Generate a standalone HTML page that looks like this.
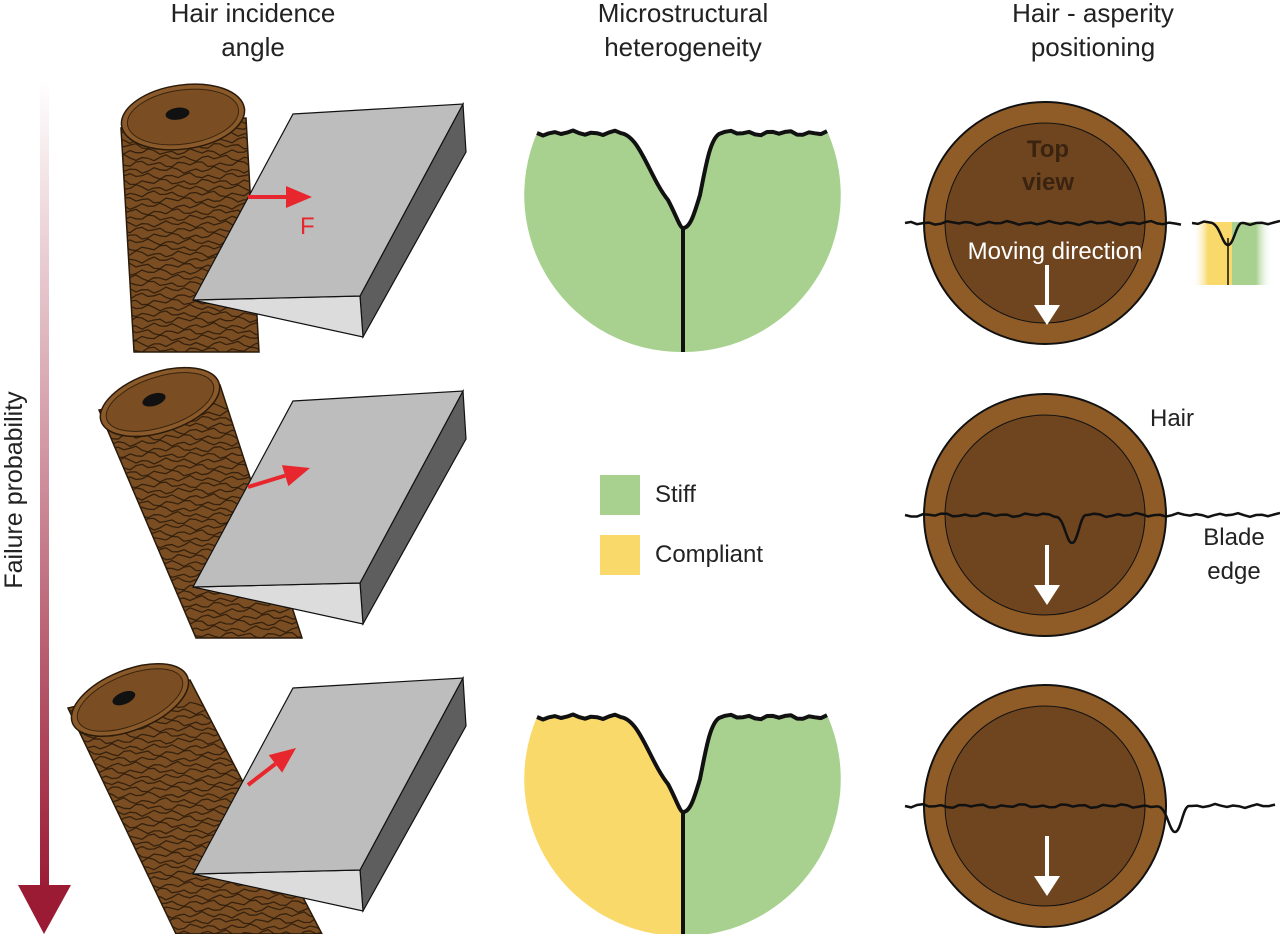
<!DOCTYPE html>
<html><head><meta charset="utf-8"><style>
html,body{margin:0;padding:0;background:#fff;}
svg{display:block;font-family:"Liberation Sans",sans-serif;}
</style></head><body>
<svg id="fig" width="1280" height="934" viewBox="0 0 1280 934">
<defs>
<linearGradient id="fp" x1="0" y1="0" x2="0" y2="1"><stop offset="0" stop-color="#fff"/><stop offset="1" stop-color="#9b1b35"/></linearGradient>
<linearGradient id="yg" x1="0" y1="0" x2="1" y2="0"><stop offset="0" stop-color="#fff" stop-opacity="0"/><stop offset="0.2" stop-color="#f9d96a"/><stop offset="0.5" stop-color="#f9d96a"/><stop offset="0.5" stop-color="#a8d18f"/><stop offset="0.8" stop-color="#a8d18f"/><stop offset="1" stop-color="#fff" stop-opacity="0"/></linearGradient>
</defs>
<g font-size="26" fill="#222" text-anchor="middle">
<text x="253" y="22">Hair incidence</text>
<text x="253" y="56">angle</text>
<text x="683" y="22">Microstructural</text>
<text x="683" y="56">heterogeneity</text>
<text x="1093" y="22">Hair - asperity</text>
<text x="1093" y="56">positioning</text>
</g>
<rect x="40" y="80" width="9" height="810" fill="url(#fp)"/>
<polygon points="18,885 71,885 44,934" fill="#9b1b35"/>
<text transform="translate(22,490) rotate(-90)" font-size="25" text-anchor="middle" fill="#222">Failure probability</text>
<g id="left"></g>
<g id="mid"></g>
<g>
<rect x="600" y="475" width="40" height="40" fill="#a8d18f"/>
<text x="655" y="502" font-size="24" fill="#222">Stiff</text>
<rect x="600" y="535" width="40" height="40" fill="#f9d96a"/>
<text x="655" y="562" font-size="24" fill="#222">Compliant</text>
</g>
<g id="right"></g>
</svg>
<script>
const NS="http://www.w3.org/2000/svg";
function mk(p,t,a){const e=document.createElementNS(NS,t);for(const k in a)e.setAttribute(k,a[k]);p.appendChild(e);return e;}
function wav(x0,x1,y,amp,seed,step){step=step||3;let d="M"+x0+","+y;for(let x=x0+step;x<=x1;x+=step){const v=Math.sin(x*0.9+seed)*amp*0.6+Math.sin(x*0.37+seed*2)*amp*0.5;d+=" L"+x+","+(y+v).toFixed(1);}return d;}
function smooth(x0,x1,y,amp,seed){let d="M"+x0+","+y;for(let x=x0+6;x<=x1;x+=6){const v=Math.sin(x*0.31+seed)*amp+Math.sin(x*0.13+seed*2)*amp*0.6;d+=" L"+x+","+(y+v).toFixed(1);}return d;}
const L=document.getElementById('left');
const defs=document.querySelector('defs');
const rows=[
 {dy:0,ell:[183,117,62,32,-8],body:"M121,128 L134,352 L259,352 L246,118 Z",arrow:[248,197,312,197]},
 {dy:287,ell:[160,402,62,30,-18],body:"M99,410 L196,638 L302,638 L220,385 Z",arrow:[248,487,310,468]},
 {dy:574,ell:[130,700,62,30,-22],body:"M68,708 L176,934 L322,934 L190,680 Z",arrow:[248,785,296,748]}
];
rows.forEach((r,i)=>{
 const cp=mk(defs,'clipPath',{id:'cp'+i});mk(cp,'path',{d:r.body});
 const g=mk(L,'g',{});
 
 
 const b=mk(g,'path',{d:r.body,fill:'#7a4e22',stroke:'#2a1a0a','stroke-width':1.5});
 
 
 const tx=mk(g,'g',{'clip-path':`url(#cp${i})`});
 for(let k=0;k<44;k++){const y=r.ell[1]+5+k*6;mk(tx,'path',{d:smooth(40,340,y,2.2,k*1.7+i),fill:'none',stroke:'#2a1a0a','stroke-width':1.3,opacity:0.85});}
 const [cx,cy,rx,ry,rot]=r.ell;
 const e=mk(g,'ellipse',{cx,cy,rx,ry,fill:'#8a5a2a',stroke:'#2a1a0a','stroke-width':1.5,transform:`rotate(${rot} ${cx} ${cy})`});
 
 
 mk(g,'ellipse',{cx,cy,rx:rx-6,ry:ry-5,fill:'#7a4d22',stroke:'#3a240e','stroke-width':1,transform:`rotate(${rot} ${cx} ${cy})`});
 mk(g,'ellipse',{cx:cx-5,cy:cy-4,rx:12,ry:6,fill:'#111',transform:`rotate(${rot} ${cx} ${cy})`});
 const d=r.dy;
 const bl=mk(g,'g',{});
 
 
 mk(bl,'polygon',{points:`463,${104+d} 466,${152+d} 363,${337+d} 360,${296+d}`,fill:'#5e5e5e',stroke:'#111','stroke-width':1.2});
 mk(bl,'polygon',{points:`193,${300+d} 360,${296+d} 363,${337+d}`,fill:'#dcdcdc',stroke:'#111','stroke-width':1.2});
 mk(bl,'polygon',{points:`293,${114+d} 463,${104+d} 360,${296+d} 193,${300+d}`,fill:'#bdbdbd',stroke:'#111','stroke-width':1.2});
 const [x1,y1,x2,y2]=r.arrow;const ang=Math.atan2(y2-y1,x2-x1);const ca=Math.cos(ang),sa=Math.sin(ang);
 const bx=x2-26*ca,by=y2-26*sa;
 const ar=mk(g,'g',{});
 
 
 mk(ar,'line',{x1,y1,x2:bx,y2:by,stroke:'#e8262d','stroke-width':4});
 mk(ar,'polygon',{points:`${x2},${y2} ${bx-11*sa},${by+11*ca} ${bx+11*sa},${by-11*ca}`,fill:'#e8262d'});
});
const ft=mk(L,'text',{x:300,y:234,'font-size':24,fill:'#e8262d'});ft.textContent='F';



const M=document.getElementById('mid');
[[0,'#a8d18f','#a8d18f'],[584,'#f9d96a','#a8d18f']].forEach(([oy,lc,rc],i)=>{
 const g=mk(M,'g',{});
 
 
 const lw=smooth(537,621,133+oy,1.6,3);
 const lcurve=` C640,${136+oy} 650,${178+oy} 668,${200+oy} C676,${215+oy} 680,${228+oy} 683,${228+oy}`;
 const rcurve=` C690,${228+oy} 694,${215+oy} 700,${195+oy} C706,${165+oy} 710,${140+oy} 719,${134+oy}`;
 const rw=smooth(719,827,133+oy,1.6,5).replace(/^M[^ ]+/,'');
 mk(g,'path',{d:lw+lcurve+` L683,${352+oy} A157,157 0 0 1 537,${133+oy} Z`,fill:lc});
 mk(g,'path',{d:`M683,${228+oy}`+rcurve+rw+` L828,${133+oy} A157,157 0 0 1 683,${352+oy} Z`,fill:rc});
 mk(g,'path',{d:lw+lcurve+rcurve+rw,fill:'none',stroke:'#111','stroke-width':4,'stroke-linejoin':'round'});
 mk(g,'line',{x1:683,y1:228+oy,x2:683,y2:352+oy,stroke:'#111','stroke-width':4});
});

const R=document.getElementById('right');
const circ=[[223,1228,245,1190],[515,1072,543,1280],[806,1175,832,1280]];
circ.forEach(([cy,nx,ny,le],i)=>{
 const g=mk(R,'g',{});
 
 
 mk(g,'circle',{cx:1045,cy,r:121,fill:'#8f5b27',stroke:'#111','stroke-width':2});
 mk(g,'circle',{cx:1045,cy,r:100,fill:'#6f4520',stroke:'#111','stroke-width':1});
 const ay=cy+(i==0?42:30);
 mk(g,'line',{x1:1047,y1:ay,x2:1047,y2:ay+45,stroke:'#fff','stroke-width':4});
 mk(g,'polygon',{points:`1034,${ay+40} 1060,${ay+40} 1047,${ay+60}`,fill:'#fff'});
 let d;
 if(i==0){
  mk(g,'rect',{x:1192,y:222,width:80,height:63,fill:'url(#yg)'});
  mk(g,'line',{x1:1228,y1:238,x2:1228,y2:285,stroke:'#111','stroke-width':1.5});
  mk(g,'path',{d:smooth(905,1186,cy,1.3,i),fill:'none',stroke:'#111','stroke-width':2.5});
  d=smooth(1192,1214,cy,1.3,2)+` C1220,${cy} 1222,${ny} 1228,${ny} C1234,${ny} 1236,${cy} 1242,${cy} `+smooth(1244,1280,cy,1.3,4).replace(/^M/,'L');
 } else {
  d=smooth(905,nx-14,cy,1.3,i)+` C${nx-8},${cy} ${nx-6},${ny} ${nx},${ny} C${nx+6},${ny} ${nx+8},${cy} ${nx+14},${cy} `+smooth(nx+16,1280,cy,1.3,i+3).replace(/^M/,'L');
 }
 const p=mk(g,'path',{d,fill:'none',stroke:'#111','stroke-width':2.5});
 
 
});
function txt(x,y,s,a){const t=mk(R,'text',Object.assign({x,y,'font-size':24,fill:'#222','text-anchor':'middle'},a||{}));t.textContent=s;return t;}
let t;
t=txt(1048,157,'Top',{'font-weight':'bold',fill:'#3a2410'});
t=txt(1048,190,'view',{'font-weight':'bold',fill:'#3a2410'});
t=txt(1055,259,'Moving direction',{fill:'#fff'});
t=txt(1172,426,'Hair');
t=txt(1234,545,'Blade');
t=txt(1234,579,'edge');
</script>
</body></html>
